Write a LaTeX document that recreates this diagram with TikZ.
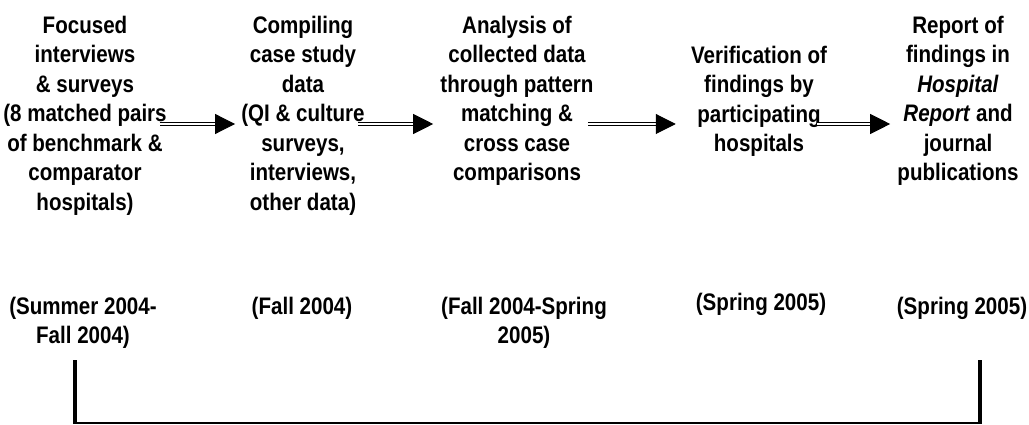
\documentclass[tikz,border=0pt]{standalone}
\usepackage{fontspec}
\setmainfont{Liberation Sans}[FakeStretch=0.86]
\usetikzlibrary{arrows.meta,positioning,calc}
\tikzset{
  stagetext/.style={
    align=center,
    font=\fontsize{17}{21}\selectfont\bfseries,
    inner sep=0pt,
    anchor=north
  },
  dblarrow/.style={
    double, double distance=1.3pt, line width=0.75pt,
    -{Triangle[length=0.5cm,width=0.5cm]}
  },
  bracketbar/.style={line width=3.3pt},
  bracketbase/.style={line width=1.4pt}
}
\begin{document}
\begin{tikzpicture}[x=0.025cm,y=-0.025cm]
  \useasboundingbox (0,0) rectangle (1029,425);
  % stages
  \node[stagetext] (focus) at (85,15.6)
    {Focused\\interviews\\\& surveys\\(8 matched pairs\\of benchmark \&\\comparator\\hospitals)};
  \node[stagetext] (compile) at (303,15.6)
    {Compiling\\case study\\data\\(QI \& culture\\surveys,\\interviews,\\other data)};
  \node[stagetext] (analyse) at (517,15.6)
    {Analysis of\\collected data\\through pattern\\matching \&\\cross case\\comparisons};
  \node[stagetext] (verify) at (759,45.6)
    {Verification of\\findings by\\participating\\hospitals};
  \node[stagetext] (report) at (958,15.6)
    {Report of\\findings in\\\textit{Hospital}\\\textit{Report} and\\journal\\publications};
  % dates
  \node[stagetext] (summer) at (83,296.6) {(Summer 2004-\\Fall 2004)};
  \node[stagetext] (fall) at (302,296.6) {(Fall 2004)};
  \node[stagetext] (fallspring) at (524,296.6) {(Fall 2004-Spring\\2005)};
  \node[stagetext] (spring) at (761,292.6) {(Spring 2005)};
  \node[stagetext] (springrep) at (962,296.6) {(Spring 2005)};
  % arrows
  \coordinate (arrowrow) at (0,124);
  \draw[dblarrow,shorten <=-0.175cm,shorten >=0.15cm] (focus.east |- arrowrow) -- (compile.west |- arrowrow);
  \draw[dblarrow,shorten <=-0.175cm,shorten >=0.175cm] (compile.east |- arrowrow) -- (analyse.west |- arrowrow);
  \draw[dblarrow,shorten <=-0.15cm,shorten >=0.375cm] (analyse.east |- arrowrow) -- (verify.west |- arrowrow);
  \draw[dblarrow,shorten <=-0.25cm,shorten >=0.175cm] (verify.east |- arrowrow) -- (report.west |- arrowrow);
  % bracket
  \draw[bracketbar] (75,360) -- (75,424);
  \draw[bracketbar] (980,360) -- (980,424);
  \draw[bracketbase] (75,423) -- (980,423);
\end{tikzpicture}
\end{document}
